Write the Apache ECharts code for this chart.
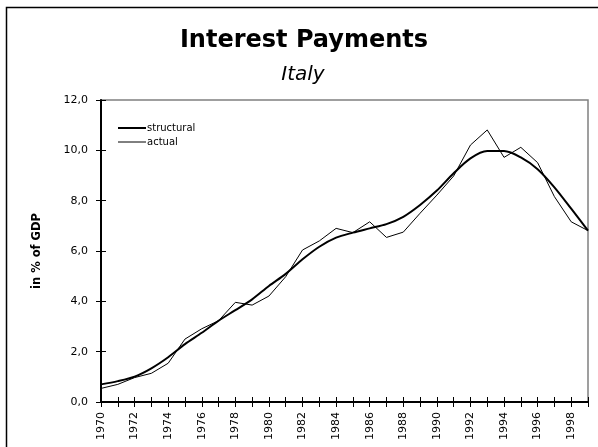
<!DOCTYPE html>
<html>
<head>
<meta charset="utf-8">
<script src="https://cdn.jsdelivr.net/npm/echarts@6/dist/echarts.min.js"></script>
<style>html,body{margin:0;padding:0;background:#fff}#c{width:598px;height:447px}</style>
</head>
<body>
<div id="c"></div>
<script>
var years = ['1970','1971','1972','1973','1974','1975','1976','1977','1978','1979','1980','1981','1982','1983','1984','1985','1986','1987','1988','1989','1990','1991','1992','1993','1994','1995','1996','1997','1998','1999'];
var structural = [0.70,0.83,1.01,1.34,1.78,2.30,2.75,3.23,3.65,4.08,4.61,5.09,5.67,6.17,6.53,6.73,6.90,7.07,7.36,7.83,8.40,9.09,9.68,9.97,9.97,9.72,9.25,8.53,7.68,6.81];
var actual = [0.54,0.70,0.97,1.14,1.54,2.50,2.91,3.23,3.96,3.85,4.21,4.98,6.04,6.40,6.90,6.73,7.16,6.54,6.75,7.50,8.22,8.98,10.21,10.81,9.72,10.12,9.51,8.16,7.16,6.81];
var titleText = 'Interest Payments';
var subtitleText = 'Italy';
var yAxisName = 'in % of GDP';

var chart = echarts.init(document.getElementById('c'));
var F = 'DejaVu Sans';
chart.setOption({
  animation: false,
  backgroundColor: '#fff',
  graphic: [
    {type: 'rect', shape: {x: 6.5, y: 7.5, width: 620, height: 470}, style: {fill: 'none', stroke: '#000', lineWidth: 1.5}, silent: true},
    {type: 'text', x: 304, y: 41, style: {text: titleText, fontFamily: F, fontWeight: 'bold', fontSize: 24, fill: '#000', textAlign: 'center', textVerticalAlign: 'middle'}},
    {type: 'text', x: 303, y: 75, style: {text: subtitleText, fontFamily: F, fontStyle: 'italic', fontSize: 20, fill: '#000', textAlign: 'center', textVerticalAlign: 'middle'}}
  ],
  grid: {left: 101, top: 100, right: 10, bottom: 45, show: true, borderColor: '#808080', borderWidth: 1.5, backgroundColor: '#fff'},
  legend: {
    orient: 'vertical', left: 112, top: 118, itemWidth: 28, itemHeight: 10, itemGap: 4,
    itemStyle: {opacity: 0},
    textStyle: {fontFamily: F, fontSize: 10, color: '#000', padding: [0,0,0,-4]},
    data: [
      {name: 'structural', lineStyle: {width: 2, color: '#000'}},
      {name: 'actual', lineStyle: {width: 1, color: '#000'}}
    ]
  },
  xAxis: [{
    type: 'category', data: years, boundaryGap: false,
    axisLine: {lineStyle: {color: '#000', width: 2}},
    axisTick: {show: true, interval: 0, length: 5, lineStyle: {color: '#000', width: 1}},
    axisLabel: {interval: 1, rotate: 90, margin: 10, fontFamily: F, fontSize: 11, color: '#000'},
    splitLine: {show: false}
  }, {
    type: 'category', data: years, boundaryGap: false, position: 'bottom',
    axisLine: {show: false},
    axisTick: {show: true, inside: true, interval: 0, length: 5, lineStyle: {color: '#000', width: 1}},
    axisLabel: {show: false}, splitLine: {show: false}
  }],
  yAxis: [{
    type: 'value', min: 0, max: 12, interval: 2,
    name: yAxisName, nameLocation: 'middle', nameGap: 58,
    nameTextStyle: {fontFamily: F, fontWeight: 'bold', fontSize: 11.5, color: '#000'},
    axisLine: {show: true, lineStyle: {color: '#000', width: 2}},
    axisTick: {show: true, length: 5, lineStyle: {color: '#000', width: 1}},
    axisLabel: {margin: 13, fontFamily: F, fontSize: 11, color: '#000', formatter: function (v) { return v.toFixed(1).replace('.', ','); }},
    splitLine: {show: false}
  }, {
    type: 'value', min: 0, max: 12, interval: 2, position: 'left',
    axisLine: {show: false},
    axisTick: {show: true, inside: true, length: 5, lineStyle: {color: '#000', width: 1}},
    axisLabel: {show: false}, splitLine: {show: false}
  }],
  series: [
    {name: 'structural', type: 'line', data: structural, smooth: 0.3, symbol: 'none', lineStyle: {color: '#000', width: 2}, itemStyle: {color: '#000'}, z: 3},
    {name: 'actual', type: 'line', data: actual, smooth: false, symbol: 'none', lineStyle: {color: '#000', width: 1}, itemStyle: {color: '#000'}, z: 2}
  ]
});
</script>
</body>
</html>
